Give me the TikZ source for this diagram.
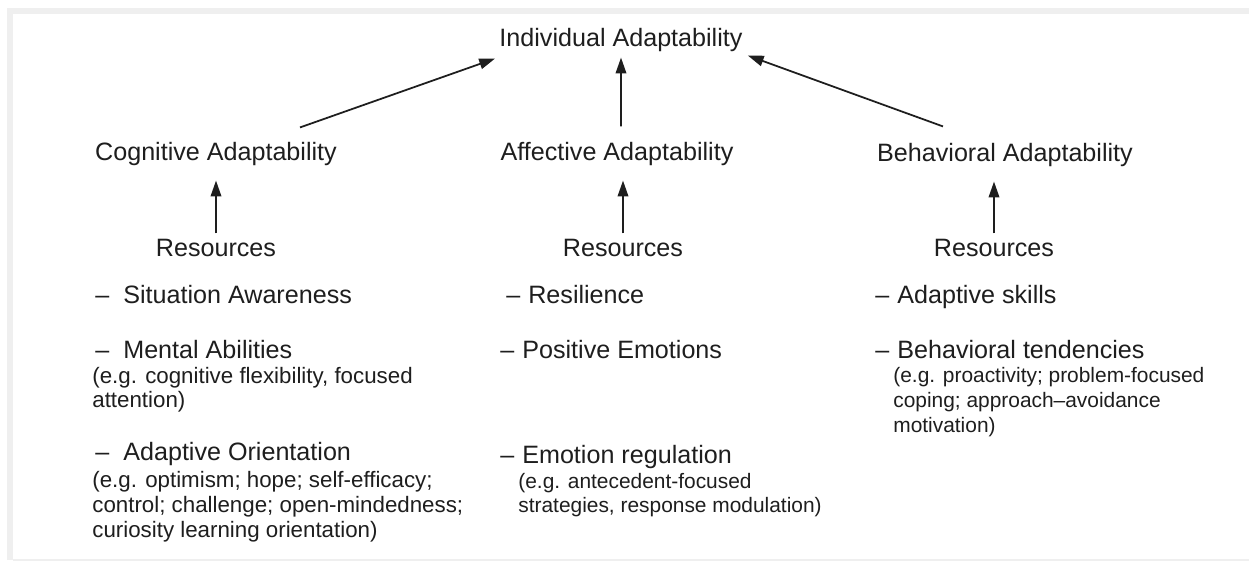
\documentclass[tikz,border=0pt]{standalone}
\usepackage{fontspec}
\setmainfont{Liberation Sans}
\usetikzlibrary{arrows.meta,calc}
\definecolor{ink}{HTML}{1E1E1E}
\definecolor{framegray}{HTML}{EFEFEF}
\begin{document}
\begin{tikzpicture}[x=0.02cm,y=-0.02cm,
  head/.style={inner sep=0pt, anchor=base, text=ink, font=\fontsize{14.3}{17}\selectfont},
  item/.style={inner sep=0pt, anchor=base west, text=ink, font=\fontsize{14.3}{17}\selectfont},
  note/.style={inner sep=0pt, anchor=base west, text=ink, font=\fontsize{11.9}{14}\selectfont},
  widenote/.style={note, font=\fontsize{12.7}{15}\selectfont},
  arr/.style={draw=ink, line width=1pt, -{Triangle[length=9pt,width=6pt]}}]
\useasboundingbox (0,0) rectangle (1249,565);
\fill[white] (0,0) rectangle (1249,565);
% light frame along the top and left edges
\fill[framegray] (7,8) rectangle (1249,14);
\fill[framegray] (7,14) rectangle (13,560);
\draw[framegray, line width=0.6pt] (13,560) -- (1249,560);

% levels of adaptability
\node[head] (ind) at (621,46) {Individual Adaptability};
\node[head] (cog) at (216,160) {Cognitive Adaptability};
\node[head] (aff) at (617,160) {Affective Adaptability};
\node[head] (beh) at (1005,161) {Behavioral Adaptability};

% resources
\node[head] (r1) at (216,256) {Resources};
\node[head] (r2) at (623,256) {Resources};
\node[head] (r3) at (994,256) {Resources};

% cognitive resources
\node[item] (c1) at (95,303) {\makebox[0.56cm][l]{–}Situation Awareness};
\node[item] (c2) at (95,358) {\makebox[0.56cm][l]{–}Mental Abilities};
\node[widenote] (c2a) at (92,383) {(e.g. cognitive flexibility, focused};
\node[widenote] (c2b) at (92,407) {attention)};
\node[item] (c3) at (95,460) {\makebox[0.56cm][l]{–}Adaptive Orientation};
\node[widenote] (c3a) at (92,487) {(e.g. optimism; hope; self-efficacy;};
\node[widenote] (c3b) at (92,512) {control; challenge; open-mindedness;};
\node[widenote] (c3c) at (92,537) {curiosity learning orientation)};

% affective resources
\node[item] (a1) at (506,303) {\makebox[0.44cm][l]{–}Resilience};
\node[item] (a2) at (500,358) {\makebox[0.44cm][l]{–}Positive Emotions};
\node[item] (a3) at (500,463) {\makebox[0.44cm][l]{–}Emotion regulation};
\node[note] (a3a) at (518,488) {(e.g. antecedent-focused};
\node[note] (a3b) at (518,512) {strategies, response modulation)};

% behavioral resources
\node[item] (b1) at (875,303) {\makebox[0.44cm][l]{–}Adaptive skills};
\node[item] (b2) at (875,358) {\makebox[0.44cm][l]{–}Behavioral tendencies};
\node[note] (b2a) at (893,382) {(e.g. proactivity; problem-focused};
\node[note] (b2b) at (893,407) {coping; approach–avoidance};
\node[note] (b2c) at (893,432) {motivation)};

% arrows to individual adaptability
\draw[arr] ([xshift=1.68cm,yshift=0.28cm]cog.north) -- ([xshift=-2.52cm,yshift=-0.14cm]ind.south);
\draw[arr] ([xshift=0.08cm,yshift=0.3cm]aff.north) -- ([yshift=-0.12cm]ind.south);
\draw[arr] ([xshift=-1.24cm,yshift=0.32cm]beh.north) -- ([xshift=0.1cm,yshift=-0.08cm]ind.south east);

% arrows from resources
\draw[arr] ([yshift=0.1cm]r1.north) -- ($(r1.north |- cog.south)+(0,-0.3cm)$);
\draw[arr] ([yshift=0.1cm]r2.north) -- ($(r2.north |- aff.south)+(0,-0.3cm)$);
\draw[arr] ([yshift=0.1cm]r3.north) -- ($(r3.north |- beh.south)+(0,-0.3cm)$);
\end{tikzpicture}
\end{document}
